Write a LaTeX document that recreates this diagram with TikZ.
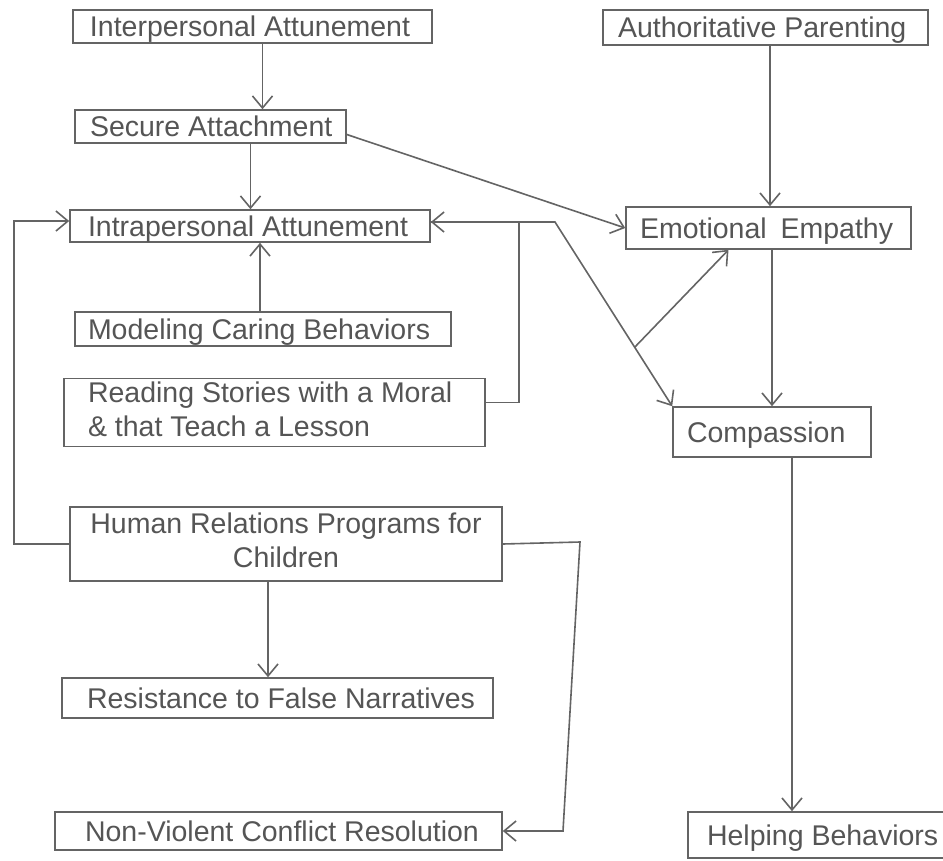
\documentclass[tikz,border=0pt]{standalone}
\usepackage{fontspec}
\setmainfont{Liberation Sans}
\usetikzlibrary{arrows.meta,calc}
\definecolor{lncol}{RGB}{100,100,100}
\definecolor{txcol}{RGB}{85,85,85}
\newcommand\bx[8][text depth=0pt]{%
  \node[box, #1, minimum width={(#5-#3)*1pt}, minimum height={(#6-#4)*1pt}] (#2) at ({(#3+#5)/2},{(#4+#6)/2})
  {\makebox[\dimexpr#5pt-#3pt\relax][l]{\hspace{#7pt}#8}};}
\begin{document}
\begin{tikzpicture}[x=1pt,y=-1pt,
  box/.style={draw=lncol, line width=1.6pt, inner sep=0pt, text=txcol,
    font=\fontsize{28.5}{34}\selectfont},
  arr/.style={draw=lncol, line width=1.6pt, -{Straight Barb[length=12pt,width=20pt]}}]
\useasboundingbox[fill=white] (0,0) rectangle (943,860);

\bx{interp}{73}{10}{432}{43}{17}{Interpersonal Attunement}
\bx{auth}{603}{10}{928}{45}{15}{Authoritative Parenting}
\bx{secure}{75}{110}{346}{143}{15}{Secure Attachment}
\bx{intra}{70}{210}{430}{242}{18}{Intrapersonal Attunement}
\bx{emo}{626}{207}{911}{249}{14}{Emotional\hspace{6pt} Empathy}
\bx{model}{75}{312}{451}{346}{13}{Modeling Caring Behaviors}
\bx[]{read}{64}{380}{485}{445}{24}{\begin{tabular}{@{}l@{}}Reading Stories with a Moral\\ \& that Teach a Lesson\end{tabular}}
\bx{comp}{673}{407}{871}{457}{14}{Compassion}
\node[box, minimum width=432pt, minimum height=74pt] (hr) at (286,544)
  {\begin{tabular}{@{}c@{}}Human Relations Programs for\\ Children\end{tabular}};
\bx{resist}{62}{678}{493}{718}{25}{Resistance to False Narratives}
\bx{nv}{55}{812}{502}{850}{30}{Non-Violent Conflict Resolution}
\bx{help}{688}{812}{946}{858}{19}{Helping Behaviors}

\coordinate (bend) at (555,222);
\coordinate (rx) at (519,0);
\coordinate (lx) at (14,0);
\coordinate (rt) at (580,542);
\coordinate (rb) at (563,831);

% vertical chains
\draw[arr] ([xshift=10pt]interp.south) -- ([xshift=10pt]interp.south |- secure.north);
\draw[arr] ([xshift=40pt]secure.south) -- ([xshift=40pt]secure.south |- intra.north);
\draw[arr] ([xshift=-3pt]model.north) -- ([xshift=-3pt]model.north |- intra.south);
\draw[arr] ([xshift=4.5pt]auth.south) -- ([xshift=4.5pt]auth.south |- emo.north);
\draw[arr] (emo.south -| comp.north) -- (comp.north);
\draw[arr] ([xshift=20pt]comp.south) -- ([xshift=20pt]comp.south |- help.north);
\draw[arr] ([xshift=-18pt]hr.south) -- ([xshift=-18pt]hr.south |- resist.north);

% diagonals
\draw[arr] ([yshift=-8pt]secure.east) -- (emo.west);
\draw[arr] ([yshift=4pt]intra.east) -- (bend) -- (comp.north west);
\draw[arr] ($(bend)!0.68!(comp.north west)$) -- ([xshift=-40pt]emo.south);

% loops
\draw[arr] ([yshift=10pt]read.east) -| ([yshift=4pt]intra.east -| rx) -- ([yshift=4pt]intra.east);
\draw[arr] (hr.west) -| ([yshift=5pt]intra.west -| lx) -- ([yshift=5pt]intra.west);
\draw[arr] (hr.east) -- (rt) -- (rb) -- (nv.east);
\end{tikzpicture}
\end{document}
